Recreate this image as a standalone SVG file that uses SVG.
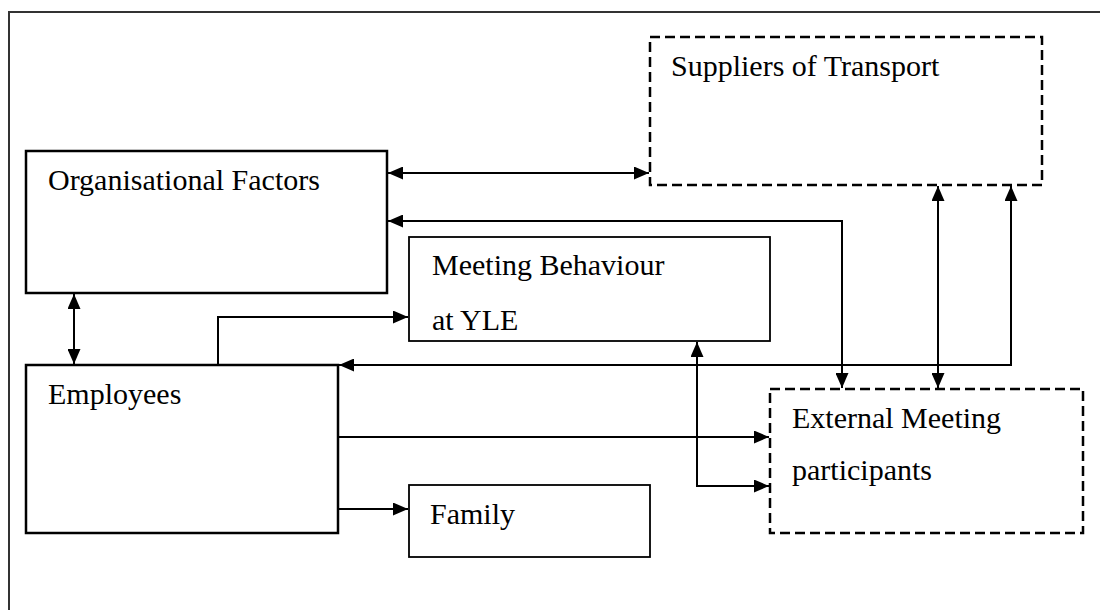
<svg xmlns="http://www.w3.org/2000/svg" width="1100" height="610" viewBox="0 0 1100 610">
  <style>
    .frame{fill:none;stroke:#333;stroke-width:2}
    .thick{fill:#fff;stroke:#000;stroke-width:2.5}
    .thin{fill:#fff;stroke:#000;stroke-width:1.8}
    .dash{fill:#fff;stroke:#000;stroke-width:2.5;stroke-dasharray:10 5}
    .conn{fill:none;stroke:#000;stroke-width:2}
    text{font-family:"Liberation Serif","Times New Roman",serif;font-size:30px;fill:#000}
  </style>
  <defs>
    <marker id="ah" markerUnits="userSpaceOnUse" viewBox="0 0 15 13" refX="15" refY="6.5" markerWidth="15" markerHeight="13" orient="auto-start-reverse">
      <path d="M0,0 L15,6.5 L0,13 z" fill="#000"/>
    </marker>
  </defs>
  <path class="frame" d="M9,610 V12 H1100"/>
  <g id="connectors">
    <path class="conn" d="M388,173 H649" marker-start="url(#ah)" marker-end="url(#ah)"/>
    <path class="conn" d="M388,221 H842 V388" marker-start="url(#ah)" marker-end="url(#ah)"/>
    <path class="conn" d="M74,294 V364" marker-start="url(#ah)" marker-end="url(#ah)"/>
    <path class="conn" d="M218,365 V317 H408" marker-end="url(#ah)"/>
    <path class="conn" d="M1011,186 V365 H339" marker-start="url(#ah)" marker-end="url(#ah)"/>
    <path class="conn" d="M938,186 V388" marker-start="url(#ah)" marker-end="url(#ah)"/>
    <path class="conn" d="M339,437 H769" marker-end="url(#ah)"/>
    <path class="conn" d="M697,342 V486 H769" marker-start="url(#ah)" marker-end="url(#ah)"/>
    <path class="conn" d="M339,509 H408" marker-end="url(#ah)"/>
  </g>
  <g id="suppliers">
    <rect class="dash" x="650" y="37" width="392" height="148"/>
    <text x="671" y="76">Suppliers of Transport</text>
  </g>
  <g id="organisational">
    <rect class="thick" x="26" y="151" width="361" height="142"/>
    <text x="48" y="190">Organisational Factors</text>
  </g>
  <g id="meeting">
    <rect class="thin" x="409" y="237" width="361" height="104"/>
    <text x="432" y="275">Meeting Behaviour</text>
    <text x="432" y="330">at YLE</text>
  </g>
  <g id="employees">
    <rect class="thick" x="26" y="365" width="312" height="168"/>
    <text x="48" y="404">Employees</text>
  </g>
  <g id="external">
    <rect class="dash" x="770" y="389" width="313" height="144"/>
    <text x="792" y="428">External Meeting</text>
    <text x="792" y="480">participants</text>
  </g>
  <g id="family">
    <rect class="thin" x="409" y="485" width="241" height="72"/>
    <text x="430" y="524">Family</text>
  </g>
</svg>
